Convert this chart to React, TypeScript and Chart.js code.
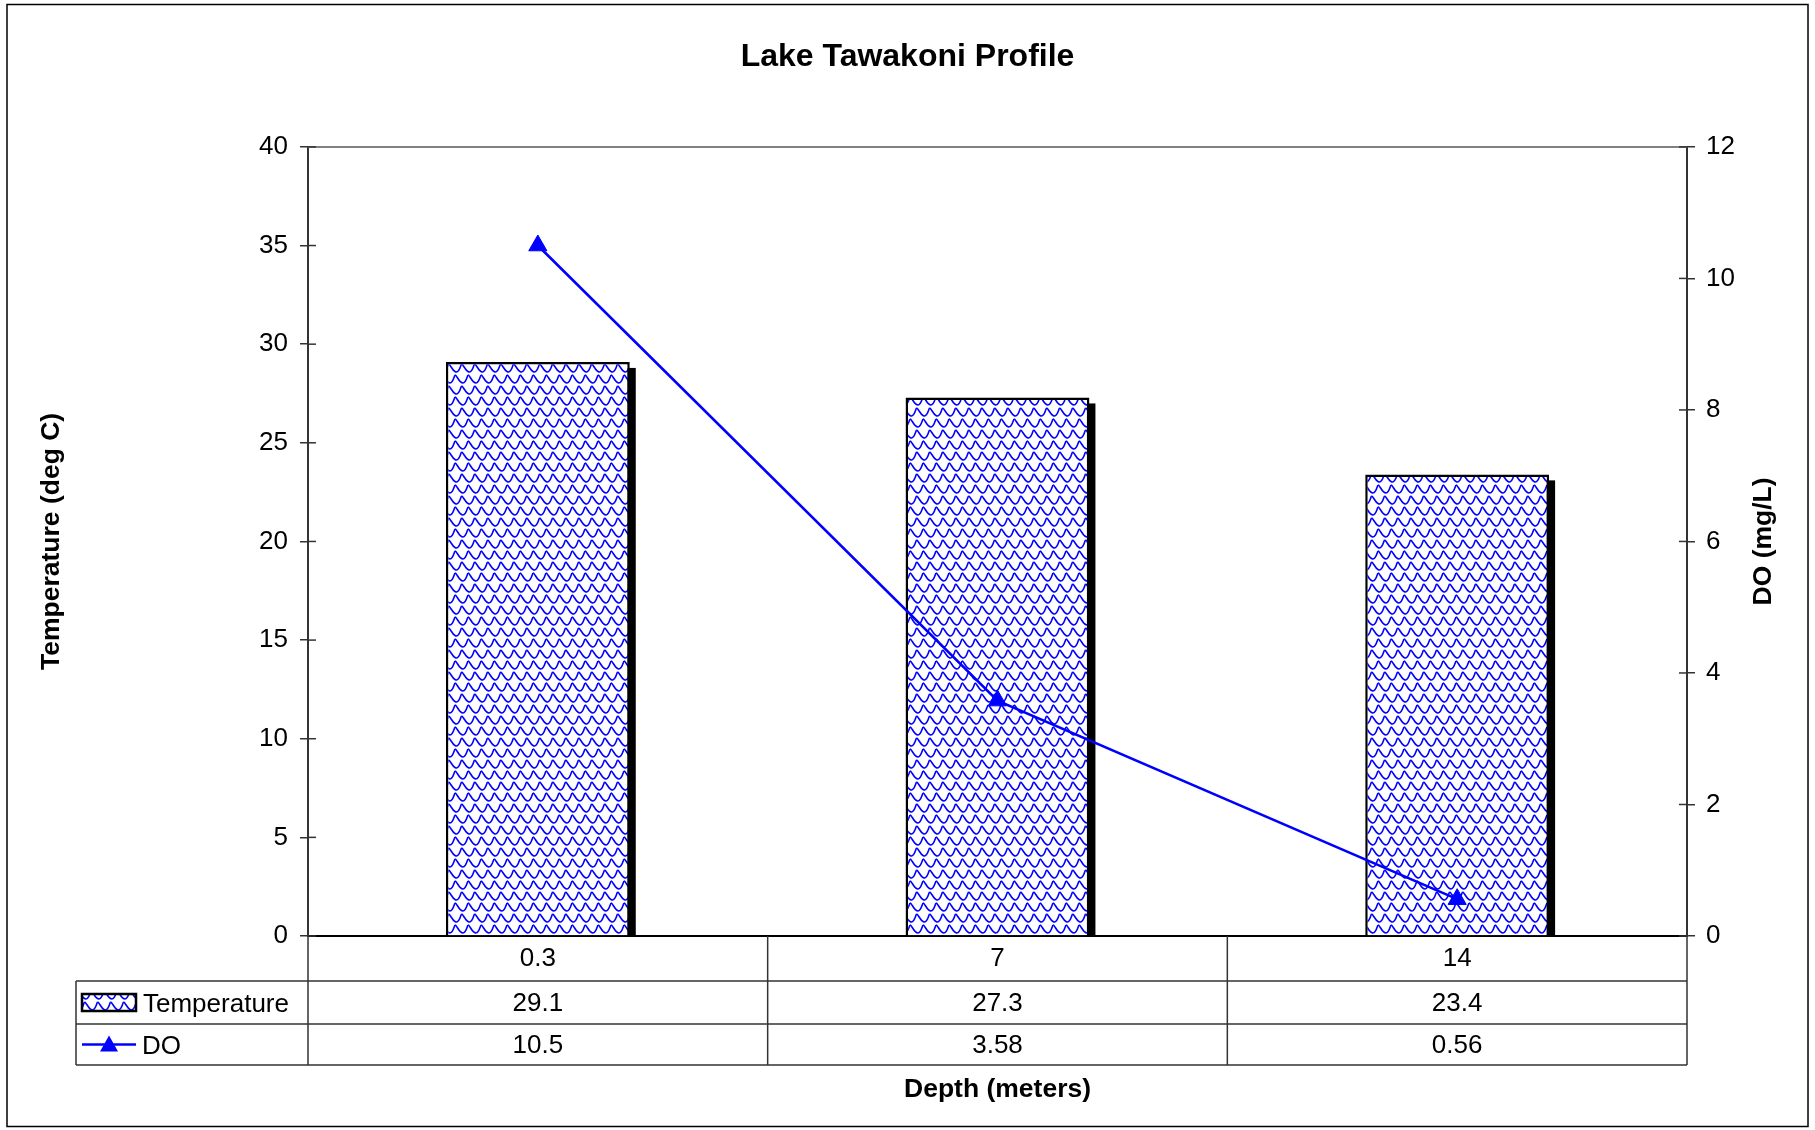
import React, { useEffect, useRef } from 'react';
import { Chart, registerables } from 'chart.js';

Chart.register(...registerables);

// ---- data ----
const depthLabels = ['0.3', '7', '14'];
const temperatureValues = [29.1, 27.3, 23.4];
const doValues = [10.5, 3.58, 0.56];
const temperatureTicks = { min: 0, max: 40, step: 5 };
const doTicks = { min: 0, max: 12, step: 2 };

// ---- layout / style constants ----
const W = 1815;
const H = 1130;
const FONT = "'Liberation Sans', Arial, Helvetica, sans-serif";
const BLUE = '#0000FF';
const LINE_GRAY = '#333333';

function makePattern(): CanvasPattern | string {
  const tile = document.createElement('canvas');
  const tw = 13;
  const th = 22;
  tile.width = tw;
  tile.height = th;
  const c = tile.getContext('2d');
  if (!c) return '#8080ff';
  c.fillStyle = '#ffffff';
  c.fillRect(0, 0, tw, th);
  c.strokeStyle = BLUE;
  c.lineWidth = 1.6;
  const row = (ox: number, oy: number) => {
    c.beginPath();
    c.moveTo(ox, oy + 1);
    c.bezierCurveTo(ox + 2, oy + 1, ox + 4, oy + 9, ox + 8, oy + 9);
    c.bezierCurveTo(ox + 11, oy + 9, ox + 12, oy + 3, ox + 13, oy + 1);
    c.stroke();
  };
  for (const dx of [-13, 0, 13]) {
    row(dx, 0);
    row(dx, 22);
    row(dx + 6.5, 11);
    row(dx + 6.5, -11);
  }
  const p = c.createPattern(tile, 'repeat');
  return p || '#8080ff';
}

function drawTriangle(ctx: CanvasRenderingContext2D, x: number, y: number, r: number) {
  ctx.beginPath();
  ctx.moveTo(x, y - r);
  ctx.lineTo(x + r * 0.9, y + r * 0.6);
  ctx.lineTo(x - r * 0.9, y + r * 0.6);
  ctx.closePath();
  ctx.fill();
}

export default function App() {
  const canvasRef = useRef<HTMLCanvasElement | null>(null);

  useEffect(() => {
    const canvas = canvasRef.current;
    if (!canvas) return;
    Chart.defaults.font.family = FONT;
    const pattern = makePattern();

    const decorPlugin = {
      id: 'decor',
      beforeDatasetsDraw(chart: any) {
        const ctx = chart.ctx as CanvasRenderingContext2D;
        const meta = chart.getDatasetMeta(0);
        ctx.save();
        ctx.fillStyle = '#000000';
        meta.data.forEach((el: any) => {
          const { x, y, base, width } = el.getProps(['x', 'y', 'base', 'width'], true);
          ctx.fillRect(x - width / 2 + 6, y + 6, width, base - y - 6);
        });
        ctx.restore();
      },
      afterDraw(chart: any) {
        const ctx = chart.ctx as CanvasRenderingContext2D;
        const a = chart.chartArea;
        const xs = chart.scales.x;
        const ys = chart.scales.y;
        const ys1 = chart.scales.y1;
        ctx.save();

        // outer frame
        ctx.strokeStyle = '#000000';
        ctx.lineWidth = 1.5;
        ctx.strokeRect(7, 4.5, chart.width - 14, chart.height - 8);

        // plot-area top border
        ctx.strokeStyle = '#808080';
        ctx.lineWidth = 2;
        ctx.beginPath();
        ctx.moveTo(a.left, a.top);
        ctx.lineTo(a.right, a.top);
        ctx.stroke();

        // inner half of cross tick marks
        ctx.strokeStyle = LINE_GRAY;
        ctx.lineWidth = 1.5;
        ys.ticks.forEach((t: any) => {
          const py = ys.getPixelForValue(t.value);
          ctx.beginPath();
          ctx.moveTo(a.left, py);
          ctx.lineTo(a.left + 8, py);
          ctx.stroke();
        });
        ys1.ticks.forEach((t: any) => {
          const py = ys1.getPixelForValue(t.value);
          ctx.beginPath();
          ctx.moveTo(a.right - 8, py);
          ctx.lineTo(a.right, py);
          ctx.stroke();
        });

        // data table
        const n = chart.data.labels.length;
        const colW = (xs.right - xs.left) / n;
        const rowH = [45, 43, 41];
        const r0 = a.bottom;
        const r1 = r0 + rowH[0];
        const r2 = r1 + rowH[1];
        const r3 = r2 + rowH[2];
        const legL = 76;
        ctx.strokeStyle = LINE_GRAY;
        ctx.lineWidth = 1.5;
        ctx.beginPath();
        [r1, r2, r3].forEach((yy) => {
          ctx.moveTo(legL, yy);
          ctx.lineTo(xs.right, yy);
        });
        ctx.moveTo(legL, r1);
        ctx.lineTo(legL, r3);
        for (let i = 0; i <= n; i++) {
          const xx = xs.left + i * colW;
          ctx.moveTo(xx, r0);
          ctx.lineTo(xx, r3);
        }
        ctx.stroke();

        ctx.fillStyle = '#000000';
        ctx.font = `26px ${FONT}`;
        ctx.textBaseline = 'middle';
        ctx.textAlign = 'center';
        const rows = [
          { top: r1, bottom: r2, ds: chart.data.datasets[0] },
          { top: r2, bottom: r3, ds: chart.data.datasets[1] },
        ];
        rows.forEach((row) => {
          const cy = (row.top + row.bottom) / 2;
          (row.ds.data as number[]).forEach((v, i) => {
            ctx.fillText(String(v), xs.getPixelForValue(i), cy + 1);
          });
        });

        // legend keys inside table
        const cyT = (r1 + r2) / 2;
        ctx.fillStyle = pattern as any;
        ctx.fillRect(legL + 6, cyT - 8.5, 54, 17);
        ctx.strokeStyle = '#000000';
        ctx.lineWidth = 2.5;
        ctx.strokeRect(legL + 6, cyT - 8.5, 54, 17);
        ctx.fillStyle = '#000000';
        ctx.textAlign = 'left';
        ctx.fillText(rows[0].ds.label, legL + 67, cyT + 2);

        const cyD = (r2 + r3) / 2;
        ctx.strokeStyle = BLUE;
        ctx.lineWidth = 2.5;
        ctx.beginPath();
        ctx.moveTo(legL + 6, cyD);
        ctx.lineTo(legL + 60, cyD);
        ctx.stroke();
        ctx.fillStyle = BLUE;
        drawTriangle(ctx, legL + 33, cyD + 1, 10);
        ctx.fillStyle = '#000000';
        ctx.fillText(rows[1].ds.label, legL + 66, cyD + 2);

        // right axis title (reads bottom-to-top)
        ctx.save();
        ctx.translate(chart.width - 51, (a.top + a.bottom) / 2);
        ctx.rotate(-Math.PI / 2);
        ctx.textAlign = 'center';
        ctx.textBaseline = 'middle';
        ctx.font = `bold 26.5px ${FONT}`;
        ctx.fillStyle = '#000000';
        ctx.fillText('DO (mg/L)', 0, 0);
        ctx.restore();

        ctx.restore();
      },
    };

    const chart = new Chart(canvas, {
      type: 'bar',
      data: {
        labels: depthLabels,
        datasets: [
          {
            type: 'bar',
            label: 'Temperature',
            data: temperatureValues,
            yAxisID: 'y',
            backgroundColor: pattern as any,
            borderColor: '#000000',
            borderWidth: 2.5,
            barPercentage: 0.4,
            categoryPercentage: 1.0,
            order: 2,
          },
          {
            type: 'line',
            label: 'DO',
            data: doValues,
            yAxisID: 'y1',
            borderColor: BLUE,
            backgroundColor: BLUE,
            borderWidth: 2.6,
            pointStyle: 'triangle',
            pointRadius: 10.5,
            pointBackgroundColor: BLUE,
            pointBorderColor: BLUE,
            pointBorderWidth: 1,
            tension: 0,
            fill: false,
            clip: false as any,
            order: 1,
          },
        ] as any,
      },
      options: {
        responsive: false,
        animation: false,
        devicePixelRatio: 1,
        layout: { padding: 0 },
        plugins: {
          legend: { display: false },
          tooltip: { enabled: false },
          title: {
            display: true,
            text: 'Lake Tawakoni Profile',
            color: '#000000',
            font: { size: 32, weight: 'bold', family: FONT },
            padding: { top: 38, bottom: 70.5 },
          },
        },
        scales: {
          x: {
            type: 'category',
            offset: true,
            grid: { display: true, drawOnChartArea: false, drawTicks: false },
            border: { display: true, color: '#000000', width: 2 },
            ticks: {
              color: '#000000',
              font: { size: 26, family: FONT },
              padding: 7,
              maxRotation: 0,
              autoSkip: false,
            },
            title: {
              display: true,
              text: 'Depth (meters)',
              color: '#000000',
              font: { size: 26.5, weight: 'bold', family: FONT },
              padding: { top: 0, bottom: 24 },
            },
            afterFit: (s: any) => {
              s.height = 194;
            },
          },
          y: {
            position: 'left',
            min: temperatureTicks.min,
            max: temperatureTicks.max,
            ticks: {
              stepSize: temperatureTicks.step,
              color: '#000000',
              font: { size: 26, family: FONT },
              padding: 12,
            },
            grid: {
              drawOnChartArea: false,
              drawTicks: true,
              tickLength: 8,
              color: LINE_GRAY,
              lineWidth: 1.5,
            },
            border: { display: true, color: LINE_GRAY, width: 2 },
            title: {
              display: true,
              text: 'Temperature (deg C)',
              color: '#000000',
              font: { size: 26.5, weight: 'bold', family: FONT },
              padding: { top: 35.4, bottom: 0 },
            },
            afterFit: (s: any) => {
              s.width = 308;
            },
          },
          y1: {
            position: 'right',
            min: doTicks.min,
            max: doTicks.max,
            ticks: {
              stepSize: doTicks.step,
              color: '#000000',
              font: { size: 26, family: FONT },
              padding: 11,
            },
            grid: {
              drawOnChartArea: false,
              drawTicks: true,
              tickLength: 8,
              color: LINE_GRAY,
              lineWidth: 1.5,
            },
            border: { display: true, color: LINE_GRAY, width: 2 },
            afterFit: (s: any) => {
              s.width = 128;
            },
          },
        },
      } as any,
      plugins: [decorPlugin as any],
    });

    return () => {
      chart.destroy();
    };
  }, []);

  return (
    <div style={{ position: 'fixed', left: 0, top: 0, width: W, height: H, background: '#ffffff' }}>
      <canvas ref={canvasRef} width={W} height={H} style={{ display: 'block', width: W, height: H }} />
    </div>
  );
}
